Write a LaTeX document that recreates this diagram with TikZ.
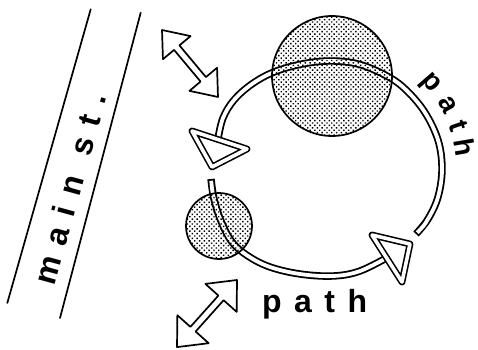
\documentclass[tikz,border=0pt]{standalone}
\usepackage{fontspec}
\setmainfont{Liberation Sans}
\usetikzlibrary{patterns.meta,calc}
\tikzset{
  ink/.style={line width=1.7pt, line join=round, line cap=round},
  bandout/.style={line width=7.4pt, line join=round},
  bandin/.style={white, line width=3.8pt, line join=round, shorten <=1.8pt, shorten >=1.8pt},
  dotfill/.style={pattern={Dots[angle=45,distance=3.4pt,radius=1pt]}},
  tri/.style={line width=1.6pt, double=white, double distance=3.6pt, line join=round, fill=white},
  lbl/.style={font=\fontsize{32}{32}\selectfont\bfseries\addfontfeature{LetterSpace=39}, inner sep=0pt},
  rlbl/.style={font=\fontsize{28}{28}\selectfont\bfseries, inner sep=0pt, anchor=base},
}
\begin{document}
\begin{tikzpicture}[x=1pt,y=1pt]
\useasboundingbox (0,0) rectangle (478,349);
% main street
\draw[ink] (90.7,339.7) -- (7.3,46);
\draw[ink] (140.7,336.3) -- (60,31);
\node[lbl, rotate=74.6] (street) at (70,160) {main\hspace{0.7em}st.};
% ring band (two segments)
\foreach \s in {bandout,bandin}{
  \draw[\s] plot[smooth, tension=0.6] coordinates {(416,115) (428,130) (438,152) (442,180) (438,209) (424,238) (404,261) (385,274) (358,285) (330,288) (302,285) (274,277) (252,265) (234,249) (223,231) (218,210)};
  \draw[\s] plot[smooth, tension=0.6] coordinates {(211,170) (214,150) (221,128) (232,107) (248,93) (270,82) (300,75) (333,73) (360,78) (390,93)};
}
% places (dotted circles)
\node[circle, minimum size=120pt, inner sep=0pt, dotfill] (big) at (332,273) {};
\draw[ink] (big) circle[radius=60pt];
\node[circle, minimum size=66pt, inner sep=0pt, dotfill] (small) at (219,123) {};
\draw[ink] (small) circle[radius=33pt];
% arrowheads on the ring
\draw[tri] (192,218) -- (247,200) -- (212,182) -- cycle;
\draw[tri] (372,114) -- (410,105) -- (402,67) -- cycle;
% two-headed access arrows
\draw[ink, fill=white, shift={(162,319)}, rotate=-50.1]
  (0,0) -- (23,18) -- (23,3.5) -- (64.3,3.5) -- (64.3,18) -- (87.3,0)
  -- (64.3,-18) -- (64.3,-3.5) -- (23,-3.5) -- (23,-18) -- cycle;
\draw[ink, fill=white, shift={(237,69)}, rotate=228.2]
  (0,0) -- (24,21) -- (24,3.5) -- (66,3.5) -- (66,21) -- (90,0)
  -- (66,-21) -- (66,-3.5) -- (24,-3.5) -- (24,-21) -- cycle;
% labels
\node[lbl, anchor=base west] (pathb) at (262,37) {path};
\coordinate (rc) at (330,179);
\node[rlbl, rotate=-49] (rp) at ($(rc)+(41:127)$) {p};
\node[rlbl, rotate=-61] (ra) at ($(rc)+(29:127)$) {a};
\node[rlbl, rotate=-71] (rt) at ($(rc)+(19:127)$) {t};
\node[rlbl, rotate=-80.5] (rh) at ($(rc)+(9.5:127)$) {h};
\end{tikzpicture}
\end{document}
